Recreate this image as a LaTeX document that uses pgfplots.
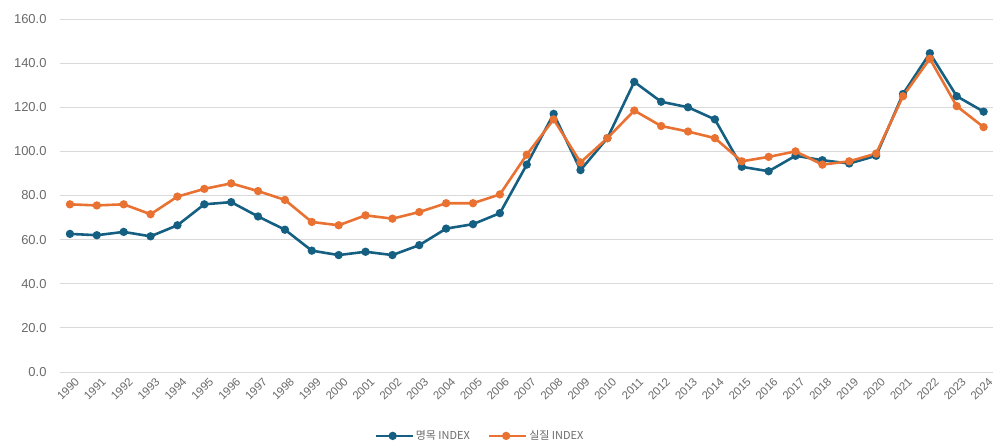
\documentclass[border=0pt]{standalone}
\usepackage{pgfplots}
\pgfplotsset{compat=1.18}
\usepackage{fontspec}
\setmainfont{Liberation Sans}
\newfontfamily\kr{Noto Sans CJK KR}
\definecolor{nom}{HTML}{156082}
\definecolor{real}{HTML}{E97132}
\definecolor{lbl}{HTML}{6A6A6A}
\definecolor{grd}{HTML}{D9D9D9}

\pgfplotstableread{
year nominal real
1990 62.6 76.0
1991 62.0 75.5
1992 63.5 76.0
1993 61.5 71.5
1994 66.5 79.5
1995 76.0 83.0
1996 77.0 85.5
1997 70.5 82.0
1998 64.5 78.0
1999 55.0 68.0
2000 53.0 66.5
2001 54.5 71.0
2002 53.0 69.5
2003 57.5 72.5
2004 65.0 76.5
2005 67.0 76.5
2006 72.0 80.5
2007 94.0 98.5
2008 117.0 114.5
2009 91.5 95.0
2010 106.0 106.0
2011 131.5 118.5
2012 122.5 111.5
2013 120.0 109.0
2014 114.5 106.0
2015 93.0 95.5
2016 91.0 97.5
2017 98.0 100.0
2018 96.0 94.0
2019 94.5 95.5
2020 98.0 99.0
2021 126.0 125.0
2022 144.5 142.0
2023 125.0 120.5
2024 118.0 111.0
}\datatable

\begin{document}
\begin{tikzpicture}
\path[use as bounding box] (-60bp,-75bp) rectangle (934bp,19bp+353bp);
\begin{axis}[
    at={(0,0)}, anchor=south west,
    scale only axis,
    width=933bp, height=353bp,
    xmin=1989.63, xmax=2024.35,
    ymin=0, ymax=160,
    xtick={1990,...,2024},
    ytick={0,20,...,160},
    ymajorgrids,
    grid style={grd, line width=0.8pt},
    axis line style={draw=none},
    major tick length=0pt,
    tick label style={font=\fontsize{11.5}{14}\selectfont, text=lbl},
    /pgf/number format/assume math mode=true,
    x tick label style={rotate=45, anchor=north east, /pgf/number format/1000 sep={}, yshift=-3bp, xshift=3bp},
    y tick label style={/pgf/number format/fixed, /pgf/number format/fixed zerofill, /pgf/number format/precision=1, xshift=-10bp, font=\fontsize{13}{15}\selectfont},
    legend columns=2,
    legend style={draw=none, fill=none, at={(0.45,-0.181)}, anchor=center, font=\kr\fontsize{11}{13}\selectfont, text=lbl,
        /tikz/every even column/.append style={column sep=16bp}},
    legend image code/.code={
        \draw[mark repeat=2, mark phase=2, #1] plot coordinates {(0cm,0cm) (0.6cm,0cm) (1.3cm,0cm)};
    },
]
\addplot[nom, line width=2.6pt, mark=*, mark size=2.8pt] table[x=year, y=nominal] {\datatable};
\addlegendentry{명목 INDEX}
\addplot[real, line width=2.6pt, mark=*, mark size=2.8pt] table[x=year, y=real] {\datatable};
\addlegendentry{실질 INDEX}
\end{axis}
\end{tikzpicture}
\end{document}
